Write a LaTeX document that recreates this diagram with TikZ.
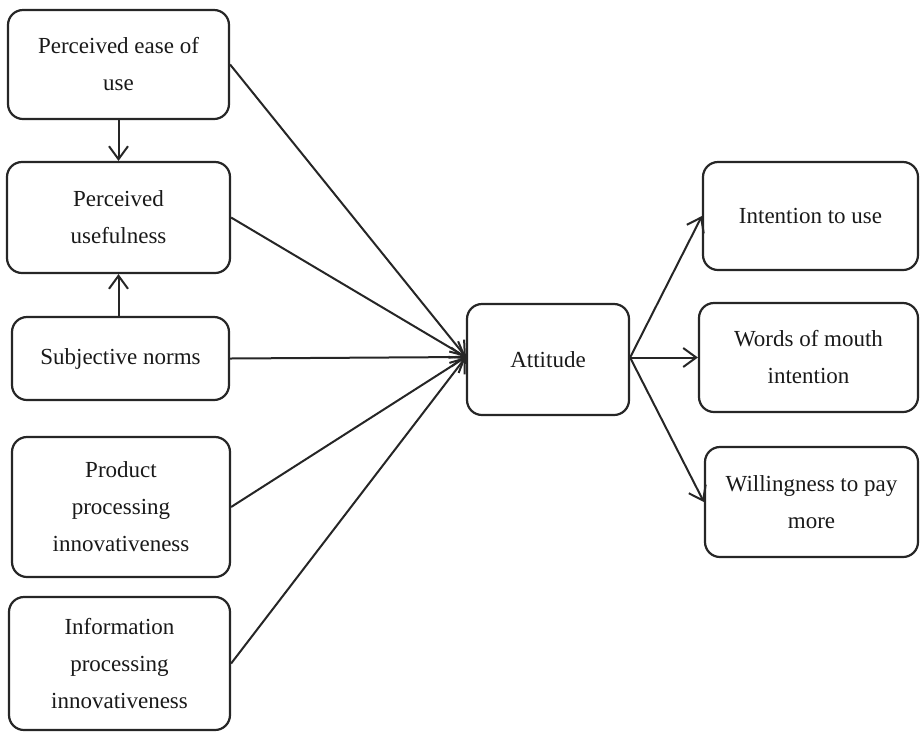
\documentclass[tikz,border=0pt]{standalone}
\usepackage{fontspec}
\setmainfont{Liberation Serif}
\usetikzlibrary{arrows.meta}
\begin{document}
\begin{tikzpicture}[x=1pt,y=-1pt,
  box/.style={draw=black!85, line width=2.2pt, rounded corners=15pt,
    align=center, inner sep=0pt, font=\fontsize{23}{37}\selectfont, text=black!90},
  link/.style={draw=black!85, line width=2pt,
    -{Straight Barb[length=13pt,width=19pt,line width=2pt]}}
]
\useasboundingbox (0,0) rectangle (920,732);
% constructs on the left
\node[box, minimum width=221pt, minimum height=109pt] (peou) at (118.5,64.5) {Perceived ease of\\use};
\node[box, minimum width=223pt, minimum height=111pt] (pu) at (118.5,217.5) {Perceived\\usefulness};
\node[box, minimum width=217pt, minimum height=83pt] (sn) at (120.5,358.5) {Subjective norms};
\node[box, minimum width=218pt, minimum height=140pt] (ppi) at (121,507) {Product\\processing\\innovativeness};
\node[box, minimum width=221pt, minimum height=133pt] (ipi) at (119.5,663.5) {Information\\processing\\innovativeness};
% central construct
\node[box, minimum width=162pt, minimum height=111pt] (att) at (548,359.5) {Attitude};
% outcomes
\node[box, minimum width=215pt, minimum height=108pt] (itu) at (810.5,216) {Intention to use};
\node[box, minimum width=219pt, minimum height=109pt] (wom) at (808.5,357.5) {Words of mouth\\intention};
\node[box, minimum width=213pt, minimum height=110pt] (wtp) at (811.5,502) {Willingness to pay\\more};
% meeting points on the attitude box
\coordinate (attin) at ([yshift=2.5pt]att.west);
\coordinate (attout) at ([yshift=2pt]att.east);
% paths
\draw[link] (peou.south) -- (pu.north);
\draw[link] (sn.north -| pu.south) -- (pu.south);
\draw[link] (peou.east) -- (attin);
\draw[link] (pu.east) -- (attin);
\draw[link] (sn.east) -- (attin);
\draw[link] (ppi.east) -- (attin);
\draw[link] (ipi.east) -- (attin);
\draw[link] (attout) -- (itu.west);
\draw[link] (attout) -- (wom.west);
\draw[link] (attout) -- (wtp.west);
\end{tikzpicture}
\end{document}
